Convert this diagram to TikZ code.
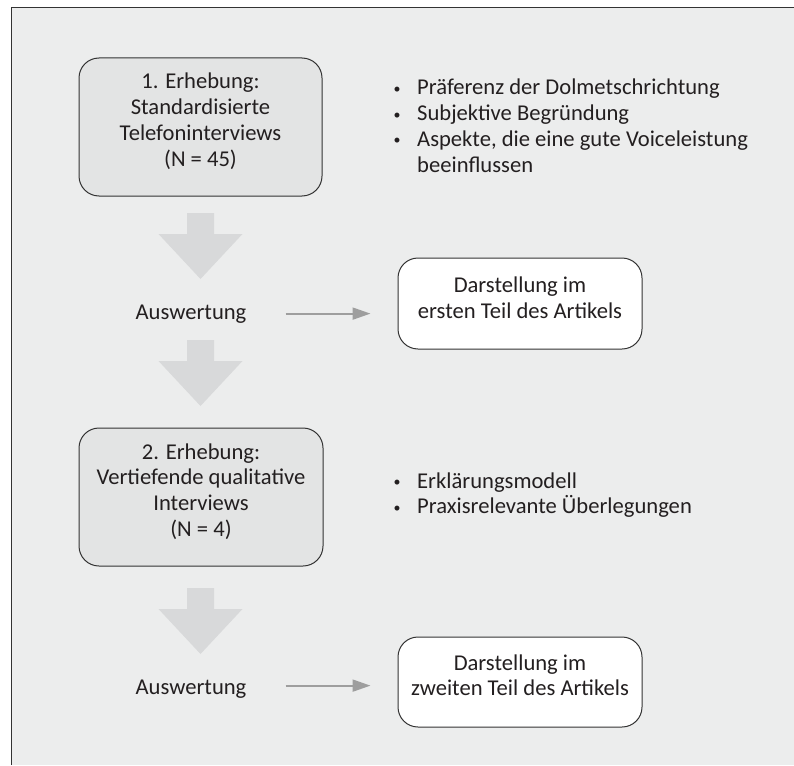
\documentclass[tikz,border=0pt]{standalone}
\usepackage{fontspec}
\setmainfont{Carlito}
\usetikzlibrary{arrows.meta}
\definecolor{bgc}{HTML}{ECEDED}
\definecolor{boxc}{HTML}{E3E4E4}
\definecolor{bigc}{HTML}{D8D9DA}
\definecolor{smallc}{HTML}{9E9E9E}
\definecolor{linec}{HTML}{333333}
\definecolor{txtc}{HTML}{231F20}
\tikzset{
  txt/.style={inner sep=0pt, text=txtc, font=\fontsize{22.6}{25.8}\selectfont},
  rbox/.style={draw=linec, line width=1pt, rounded corners=20pt, inner sep=0pt},
  graybox/.style={rbox, fill=boxc},
  whitebox/.style={rbox, fill=white},
  smallarr/.style={draw=smallc, line width=2pt, -{Triangle[length=18pt,width=12pt]}},
  bigdown/.pic={\fill[bigc] (-13.5,0) -- (13.5,0) -- (13.5,21) -- (42,21) -- (0,66) -- (-42,21) -- (-13.5,21) -- cycle;}
}
\newcommand\bul{\llap{\makebox[0pt]{\raisebox{1.6pt}{\fontsize{14}{14}\selectfont •}}\hspace{20pt}}}
\begin{document}
\begin{tikzpicture}[x=1pt,y=-1pt]
\useasboundingbox (0,0) rectangle (794,765);
\fill[white] (0,0) rectangle (794,765);
\fill[bgc] (12,8) rectangle (794,765);
\draw[linec, line width=1.2pt] (11.6,765) -- (11.6,7.6) -- (794,7.6);

% first survey
\node[graybox, minimum width=243pt, minimum height=138pt] (e1) at (200.5,127) {};
\node[txt, anchor=base] (e1t) at (200.5,89) {\begin{tabular}[t]{@{}c@{}}1. Erhebung:\\Standardisierte\\Telefoninterviews\\(N = 45)\end{tabular}};
\node[txt, anchor=base west] (l1) at (417,95) {\begin{tabular}[t]{@{}l@{}}\bul Präferenz der Dolmetschrichtung\\\bul Subjektive Begründung\\\bul Aspekte, die eine gute Voiceleistung\\beeinflussen\end{tabular}};
\path (200.5,213) pic {bigdown};

% first evaluation
\node[txt, anchor=base] (aus1) at (191,319) {Auswertung};
\node[whitebox, minimum width=244pt, minimum height=91pt] (d1) at (520,303.5) {};
\node[txt, anchor=base] (d1t) at (520,292.5) {\begin{tabular}[t]{@{}c@{}}Darstellung im\\ersten Teil des Artikels\end{tabular}};
\coordinate (s1) at ([yshift=3pt]aus1.mid east);
\draw[smallarr, shorten <=39pt, shorten >=27pt] (s1) -- (s1 -| d1.west);
\path (200.5,340) pic {bigdown};

% second survey
\node[graybox, minimum width=244pt, minimum height=138pt] (e2) at (201,497) {};
\node[txt, anchor=base] (e2t) at (201,459) {\begin{tabular}[t]{@{}c@{}}2. Erhebung:\\Vertiefende qualitative\\Interviews\\(N = 4)\end{tabular}};
\node[txt, anchor=base west] (l2) at (417,488) {\begin{tabular}[t]{@{}l@{}}\bul Erklärungsmodell\\\bul Praxisrelevante Überlegungen\end{tabular}};
\path (200.5,588) pic {bigdown};

% second evaluation
\node[txt, anchor=base] (aus2) at (191,694) {Auswertung};
\node[whitebox, minimum width=244pt, minimum height=90pt] (d2) at (520,682) {};
\node[txt, anchor=base] (d2t) at (520,670) {\begin{tabular}[t]{@{}c@{}}Darstellung im\\zweiten Teil des Artikels\end{tabular}};
\coordinate (s2) at ([yshift=6pt]aus2.mid east);
\draw[smallarr, shorten <=39pt, shorten >=27pt] (s2) -- (s2 -| d2.west);
\end{tikzpicture}
\end{document}
